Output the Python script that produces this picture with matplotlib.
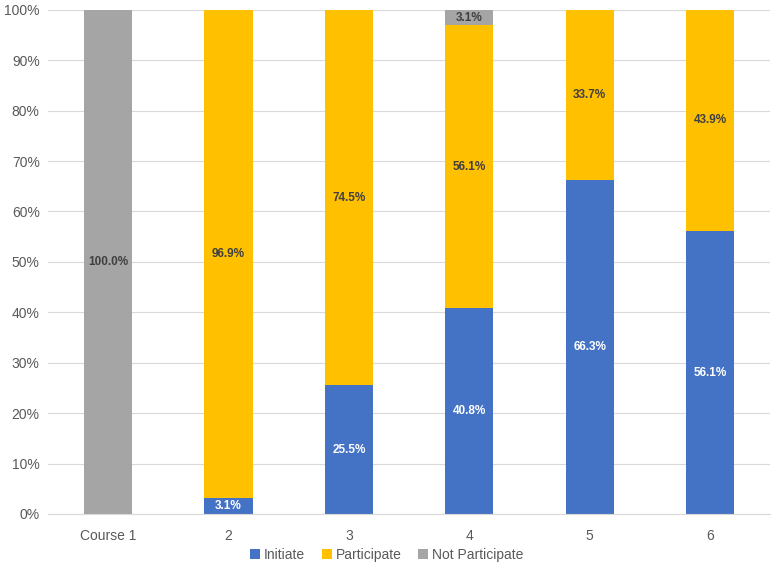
import matplotlib
matplotlib.use('Agg')
import matplotlib.pyplot as plt
import numpy as np

plt.rcParams['font.family'] = ['Liberation Sans Narrow', 'Liberation Sans', 'DejaVu Sans']

# Dados
cursos = ['Course 1', '2', '3', '4', '5', '6']
initiate = [0.0, 3.1, 25.5, 40.8, 66.3, 56.1]
participate = [0.0, 96.9, 74.5, 56.1, 33.7, 43.9]
not_participate = [100.0, 0.0, 0.0, 3.1, 0.0, 0.0]

series = [
    ('Initiate', initiate, '#4472C4', 'white'),
    ('Participate', participate, '#FFC000', '#404040'),
    ('Not Participate', not_participate, '#A5A5A5', '#404040'),
]

fig = plt.figure(figsize=(7.74, 5.73), dpi=100)
ax = fig.add_axes([0.062, 0.103, 0.933, 0.880])

x = np.arange(len(cursos))
base = np.zeros(len(cursos))
for nome, vals, cor, cor_txt in series:
    vals = np.array(vals)
    ax.bar(x, vals, 0.4, bottom=base, color=cor, label=nome, zorder=2)
    for xi, b, v in zip(x, base, vals):
        if v > 0:
            ax.text(xi, b + v / 2, f'{v:.1f}%', ha='center', va='center',
                    fontsize=8.5, fontweight='bold', color=cor_txt, zorder=3)
    base += vals

ax.set_xlim(-0.5, len(cursos) - 0.5)
ax.set_ylim(0, 100)
ax.set_yticks(np.arange(0, 101, 10))
ax.set_yticklabels([f'{v}%' for v in range(0, 101, 10)])
ax.set_xticks(x)
ax.set_xticklabels(cursos)
ax.tick_params(axis='both', length=0, labelsize=10, colors='#595959')
ax.tick_params(axis='y', pad=6)
ax.tick_params(axis='x', pad=11)
ax.yaxis.grid(True, color='#D9D9D9', linewidth=0.8, zorder=0)
for s in ['top', 'right', 'left']:
    ax.spines[s].set_visible(False)
ax.spines['bottom'].set_color('#D9D9D9')

fig.legend(loc='lower center', bbox_to_anchor=(0.5, -0.002), ncol=3, frameon=False,
           fontsize=10, handlelength=0.7, handleheight=0.7, handletextpad=0.3,
           columnspacing=1.2, labelcolor='#595959')

plt.savefig('out.png', dpi=100)
print("Imagem salva")
